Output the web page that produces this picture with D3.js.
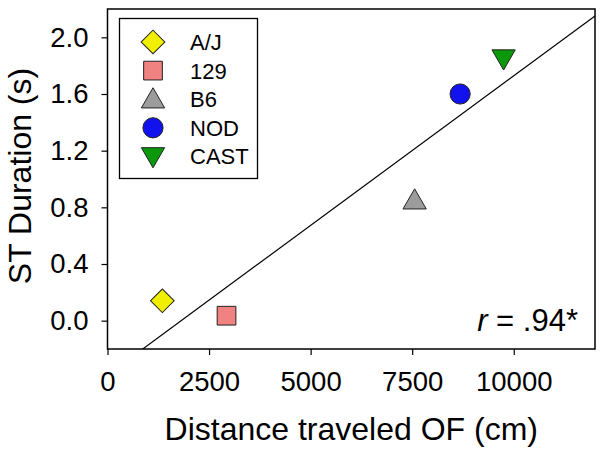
<!DOCTYPE html>
<html>
<head>
<meta charset="utf-8">
<script src="https://d3js.org/d3.v7.min.js"></script>
<style>
  body { margin: 0; background: #fff; }
  svg { display: block; font-family: Arial, "Liberation Sans", sans-serif; }
</style>
</head>
<body>
<script>
// data
const strains = ["A/J", "129", "B6", "NOD", "CAST"];
const distance = [1350, 2930, 7560, 8680, 9750];   // cm
const stDuration = [0.14, 0.035, 0.85, 1.60, 1.85]; // s
const shapes = ["diamond", "square", "triangle", "circle", "triangleDown"];
const colors = ["#f0ef00", "#f08282", "#9c9c9c", "#1212ee", "#0b990b"];
const xTicks = [0, 2500, 5000, 7500, 10000];
const yTicks = [0.0, 0.4, 0.8, 1.2, 1.6, 2.0];

const w = 606, h = 456;
const margin = {top: 9, right: 11, bottom: 107, left: 107.5};

const svg = d3.select("body").append("svg")
    .attr("width", w)
    .attr("height", h);

const x = d3.scaleLinear().domain([0, 12000]).range([margin.left, w - margin.right]);
const y = d3.scaleLinear().domain([-0.2, 2.2]).range([h - margin.bottom, margin.top]);

// clip for the fit line
svg.append("clipPath").attr("id", "plotclip")
  .append("rect")
    .attr("x", x(0)).attr("y", y(2.2))
    .attr("width", x(12000) - x(0)).attr("height", y(-0.2) - y(2.2));

// least squares fit of the points
const mx = d3.mean(distance), my = d3.mean(stDuration);
let sxy = 0, sxx = 0;
distance.forEach((d, i) => { sxy += (d - mx) * (stDuration[i] - my); sxx += (d - mx) * (d - mx); });
const slope = sxy / sxx, icpt = my - slope * mx;

svg.append("line")
    .attr("clip-path", "url(#plotclip)")
    .attr("x1", x(0)).attr("y1", y(icpt))
    .attr("x2", x(12000)).attr("y2", y(icpt + slope * 12000))
    .attr("stroke", "#000").attr("stroke-width", 1.2);

// axes
const yAxis = d3.axisLeft(y).tickValues(yTicks).tickFormat(d3.format(".1f")).tickSize(6).tickPadding(13);
const xAxis = d3.axisBottom(x).tickValues(xTicks).tickFormat(d3.format("d")).tickSize(6).tickPadding(16);

const gy = svg.append("g").attr("transform", "translate(" + x(0) + ",0)").call(yAxis);
const gx = svg.append("g").attr("transform", "translate(0," + y(-0.2) + ")").call(xAxis);
[gy, gx].forEach(g => {
  g.select(".domain").remove();
  g.selectAll("line").attr("stroke", "#000").attr("stroke-width", 1.2);
  g.selectAll("text").attr("font-size", 27.5).attr("fill", "#000")
    .attr("font-family", "Arial, 'Liberation Sans', sans-serif");
});

// frame
svg.append("rect")
    .attr("x", x(0)).attr("y", y(2.2))
    .attr("width", x(12000) - x(0)).attr("height", y(-0.2) - y(2.2))
    .attr("fill", "none").attr("stroke", "#000").attr("stroke-width", 1.5);

// symbols
const symType = {
  diamond: d3.symbolSquare, square: d3.symbolSquare, triangle: d3.symbolTriangle,
  circle: d3.symbolCircle, triangleDown: d3.symbolTriangle
};
const symSize = {diamond: 280, square: 350, triangle: 235, circle: 320, triangleDown: 235};
const symRot = {diamond: 45, square: 0, triangle: 0, circle: 0, triangleDown: 180};

function marker(g, i) {
  const s = shapes[i];
  g.append("path")
    .attr("d", d3.symbol().type(symType[s]).size(symSize[s])())
    .attr("transform", "rotate(" + symRot[s] + ")" + (s.startsWith("triangle") ? " translate(0,2)" : ""))
    .attr("fill", colors[i])
    .attr("stroke", "#222")
    .attr("stroke-width", 1);
}

svg.selectAll("g.pt")
  .data(strains)
  .enter().append("g")
    .attr("class", "pt")
    .attr("transform", (d, i) => "translate(" + x(distance[i]) + "," + y(stDuration[i]) + ")")
    .each(function(d, i) { marker(d3.select(this), i); });

// legend
const leg = svg.append("g");
leg.append("rect")
    .attr("x", 119.5).attr("y", 18.5).attr("width", 138).attr("height", 160)
    .attr("fill", "#fff").attr("stroke", "#000").attr("stroke-width", 1.3);
const rows = leg.selectAll("g.row")
  .data(strains)
  .enter().append("g")
    .attr("class", "row")
    .attr("transform", (d, i) => "translate(153," + (42 + i * 28.6) + ")");
rows.each(function(d, i) { marker(d3.select(this), i); });
rows.append("text")
    .attr("x", 37).attr("y", 8)
    .attr("font-size", 22)
    .text(d => d);

// annotation
const ann = svg.append("text")
    .attr("x", 578).attr("y", 331)
    .attr("text-anchor", "end")
    .attr("font-size", 31);
ann.append("tspan").attr("font-style", "italic").text("r");
ann.append("tspan").text(" = .94*");

// axis titles
svg.append("text")
    .attr("x", (x(0) + x(12000)) / 2).attr("y", 440)
    .attr("text-anchor", "middle")
    .attr("font-size", 32)
    .text("Distance traveled OF (cm)");

svg.append("text")
    .attr("transform", "translate(31,176) rotate(-90)")
    .attr("text-anchor", "middle")
    .attr("font-size", 32)
    .text("ST Duration (s)");
</script>
</body>
</html>
